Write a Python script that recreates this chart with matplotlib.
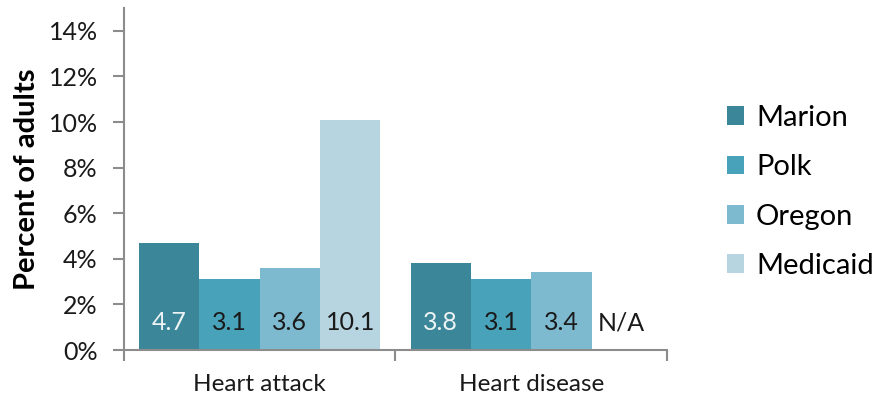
import matplotlib.pyplot as plt
import numpy as np
from matplotlib.ticker import FixedLocator, PercentFormatter

plt.rcParams["font.family"] = ["Lato", "DejaVu Sans"]

CATEGORIES = ["Heart attack", "Heart disease"]
SERIES = ["Marion", "Polk", "Oregon", "Medicaid"]
VALUES = {
    "Marion": [4.7, 3.8],
    "Polk": [3.1, 3.1],
    "Oregon": [3.6, 3.4],
    "Medicaid": [10.1, np.nan],
}
COLORS = ["#3b8799", "#48a2b9", "#7ebacf", "#b7d5e0"]
LABEL_COLORS = ["#eef4f5", "#1a1a1a", "#1a1a1a", "#1a1a1a"]
SPINE_COLOR = "#8c8c8c"

BAR_W = 0.2222
LABEL_Y = 1.2

fig = plt.figure(figsize=(8.77, 3.99), dpi=100)
ax = fig.add_axes([124 / 877, 49 / 399, 543 / 877, 342 / 399])

x = np.arange(len(CATEGORIES))
handles = []
for i, (name, color) in enumerate(zip(SERIES, COLORS)):
    offs = x + (i - 1.5) * BAR_W
    vals = np.array(VALUES[name], dtype=float)
    h = ax.bar(offs, np.nan_to_num(vals), width=BAR_W, color=color,
               linewidth=0, label=name, zorder=2)
    handles.append(h)
    for xo, v in zip(offs, vals):
        txt = "N/A" if np.isnan(v) else f"{v:.1f}"
        col = "#1a1a1a" if np.isnan(v) else LABEL_COLORS[i]
        ax.text(xo, LABEL_Y, txt, ha="center", va="center", fontsize=18,
                color=col, zorder=3)

ax.set_xlim(-0.5, 1.5)
ax.set_ylim(0, 15)
ax.yaxis.set_major_locator(FixedLocator(np.arange(0, 15, 2)))
ax.yaxis.set_major_formatter(PercentFormatter(decimals=0))
ax.set_xticks(x)
ax.set_xticklabels(CATEGORIES, fontsize=17.5, color="#1a1a1a")
ax.xaxis.set_minor_locator(FixedLocator([-0.5, 0.5, 1.5]))
ax.tick_params(axis="x", which="major", length=0, pad=17)
ax.tick_params(axis="x", which="minor", length=8, width=1.5, color=SPINE_COLOR,
               direction="out")
ax.tick_params(axis="y", length=8, width=1.5, color=SPINE_COLOR, direction="out",
               labelsize=18, labelcolor="#1a1a1a", pad=11)

for side in ("top", "right"):
    ax.spines[side].set_visible(False)
for side in ("left", "bottom"):
    ax.spines[side].set_color(SPINE_COLOR)
    ax.spines[side].set_linewidth(1.5)

ax.set_ylabel("Percent of adults", fontsize=21, fontweight="bold",
              color="#000000", labelpad=6)

ax.legend(handles=handles, labels=SERIES, loc="center left",
          bbox_to_anchor=(1.11, 0.462), frameon=False, fontsize=21,
          borderpad=0, borderaxespad=0,
          handlelength=0.6, handleheight=0.6, handletextpad=0.4,
          labelspacing=0.8)

fig.savefig("out.png", dpi=100, facecolor="white")
